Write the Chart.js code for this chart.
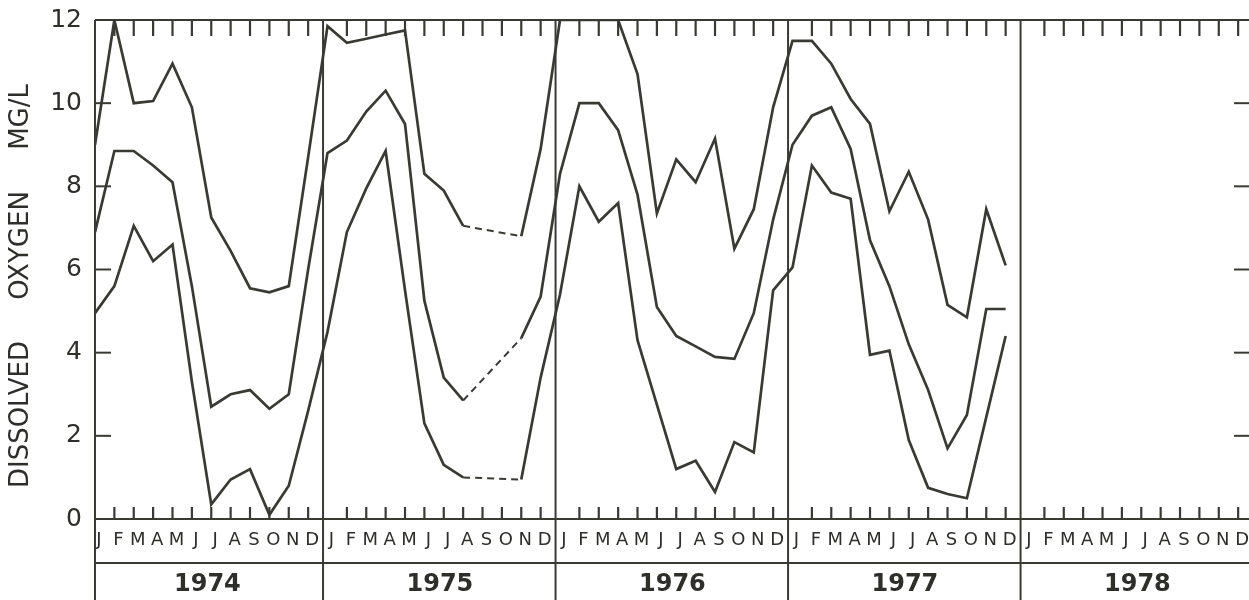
<!DOCTYPE html>
<html>
<head>
<meta charset="utf-8">
<script src="https://cdn.jsdelivr.net/npm/chart.js@4.4.1/dist/chart.umd.min.js"></script>
<style>
html,body{margin:0;padding:0;background:#ffffff;overflow:hidden}
#wrap{position:relative;width:1249px;height:600px}
</style>
</head>
<body>
<div id="wrap"><canvas id="c" width="1249" height="600"></canvas></div>
<script>
// ---- data (mg/L), monthly Jan 1974 .. Dec 1977; null = no sample (drawn dashed) ----
const monthLetters = ['J','F','M','A','M','J','J','A','S','O','N','D'];
const years = ['1974','1975','1976','1977','1978'];
const yTicks = [0, 2, 4, 6, 8, 10, 12];

const maxDO = [
  9.0, 12.0, 10.0, 10.05, 10.95, 9.9, 7.25, 6.45, 5.55, 5.45, 5.6, 8.7,
  11.85, 11.45, 11.55, 11.65, 11.75, 8.3, 7.9, 7.05, null, null, 6.8, 8.9,
  12.0, 12.0, 12.0, 12.0, 10.7, 7.35, 8.65, 8.1, 9.15, 6.5, 7.45, 9.9,
  11.5, 11.5, 10.95, 10.1, 9.5, 7.4, 8.35, 7.2, 5.15, 4.85, 7.45, 6.1
];
const meanDO = [
  6.9, 8.85, 8.85, 8.5, 8.1, 5.6, 2.7, 3.0, 3.1, 2.65, 3.0, 6.0,
  8.8, 9.1, 9.8, 10.3, 9.5, 5.25, 3.4, 2.85, null, null, 4.35, 5.35,
  8.3, 10.0, 10.0, 9.35, 7.8, 5.1, 4.4, 4.15, 3.9, 3.85, 4.95, 7.2,
  9.0, 9.7, 9.9, 8.9, 6.7, 5.6, 4.2, 3.1, 1.7, 2.5, 5.05, 5.05
];
const minDO = [
  4.95, 5.6, 7.05, 6.2, 6.6, 3.3, 0.35, 0.95, 1.2, 0.1, 0.8, 2.6,
  4.5, 6.9, 7.95, 8.85, 5.5, 2.3, 1.3, 1.0, null, null, 0.95, 3.4,
  5.4, 8.0, 7.15, 7.6, 4.3, 2.75, 1.2, 1.4, 0.65, 1.85, 1.6, 5.5,
  6.05, 8.5, 7.85, 7.7, 3.95, 4.05, 1.9, 0.75, 0.6, 0.5, 2.45, 4.4
];

const INK = '#3a3a34';
const TXT = '#2e2f2a';
const XMAX = 59.56;
const monthIdx = Array.from({length: years.length * 12}, (_, i) => i);
const dividers = [1, 2, 3, 4].map(k => 12 * k - 0.23);
const yearCenters = years.map((_, k) => 12 * k + 5.8);

const toPts = arr => arr.map((v, i) => ({x: i, y: v}));
const skipped = (ctx, val) => (ctx.p0.skip || ctx.p1.skip) ? val : undefined;

const mk = (label, arr) => ({
  label, data: toPts(arr), xAxisID: 'x', yAxisID: 'y',
  borderColor: INK, borderWidth: 2.7, pointRadius: 0, tension: 0, spanGaps: true, fill: false,
  segment: { borderDash: ctx => skipped(ctx, [7, 5]), borderWidth: ctx => skipped(ctx, 2) }
});

const framePlugin = {
  id: 'frame',
  afterDraw(chart) {
    const {ctx, chartArea: {left, right, top, bottom}, scales: {x, y, x2}} = chart;
    const H = chart.height;
    ctx.save();
    ctx.strokeStyle = INK;
    ctx.lineWidth = 2;
    ctx.lineCap = 'butt';
    const line = (x1, y1, x2_, y2) => { ctx.beginPath(); ctx.moveTo(x1, y1); ctx.lineTo(x2_, y2); ctx.stroke(); };
    line(left, top, right, top);
    line(left, bottom, right, bottom);
    line(left, x2.top, right, x2.top);
    line(left, top, left, H);
    dividers.forEach(v => { const p = x.getPixelForValue(v); line(p, top, p, H); });
    ctx.lineWidth = 2.2;
    monthIdx.filter(v => v % 12 !== 0).forEach(v => {
      const p = x.getPixelForValue(v);
      line(p, top, p, top + 16);
      line(p, bottom, p, bottom - 12);
    });
    ctx.lineWidth = 2;
    yTicks.filter(v => v > 0 && v < 12).forEach(v => {
      const p = y.getPixelForValue(v);
      line(left, p, left + 16, p);
      line(right - 15, p, right, p);
    });
    ctx.restore();
  }
};

new Chart(document.getElementById('c'), {
  type: 'line',
  data: { datasets: [mk('Maximum', maxDO), mk('Mean', meanDO), mk('Minimum', minDO)] },
  options: {
    responsive: false,
    animation: false,
    layout: { padding: { top: 20, right: 0, left: 0, bottom: 0 } },
    plugins: { legend: { display: false }, tooltip: { enabled: false } },
    scales: {
      x: {
        type: 'linear', position: 'bottom', weight: 0, min: 0, max: XMAX,
        afterBuildTicks: s => { s.ticks = monthIdx.map(v => ({value: v})); },
        afterFit: s => { s.height = 44; s.paddingLeft = 0; s.paddingRight = 0; },
        ticks: {
          autoSkip: false, maxRotation: 0, minRotation: 0, labelOffset: 4, padding: 11,
          font: { family: 'DejaVu Sans', size: 18 }, color: TXT,
          callback: v => monthLetters[((Math.round(v) % 12) + 12) % 12]
        },
        grid: { display: false, drawTicks: false }, border: { display: false }
      },
      x2: {
        type: 'linear', position: 'bottom', weight: 1, min: 0, max: XMAX,
        afterBuildTicks: s => { s.ticks = yearCenters.map(v => ({value: v})); },
        afterFit: s => { s.height = 37; s.paddingLeft = 0; s.paddingRight = 0; },
        ticks: {
          autoSkip: false, maxRotation: 0, minRotation: 0, padding: 7,
          font: { family: 'DejaVu Sans', size: 24, weight: 'bold' }, color: TXT,
          callback: (v, i) => years[i]
        },
        grid: { display: false, drawTicks: false }, border: { display: false }
      },
      y: {
        min: 0, max: 12,
        afterBuildTicks: s => { s.ticks = yTicks.map(v => ({value: v})); },
        afterFit: s => { s.width = 95; s.paddingTop = 0; s.paddingBottom = 0; },
        ticks: { padding: 13, font: { family: 'DejaVu Sans', size: 25 }, color: TXT },
        grid: { display: false, drawTicks: false }, border: { display: false },
        title: {
          display: true,
          text: 'DISSOLVED     OXYGEN     MG/L    ',
          font: { family: 'DejaVu Sans', size: 26 }, color: TXT,
          padding: { top: 6, bottom: 0 }
        }
      }
    }
  },
  plugins: [framePlugin]
});
</script>
</body>
</html>
